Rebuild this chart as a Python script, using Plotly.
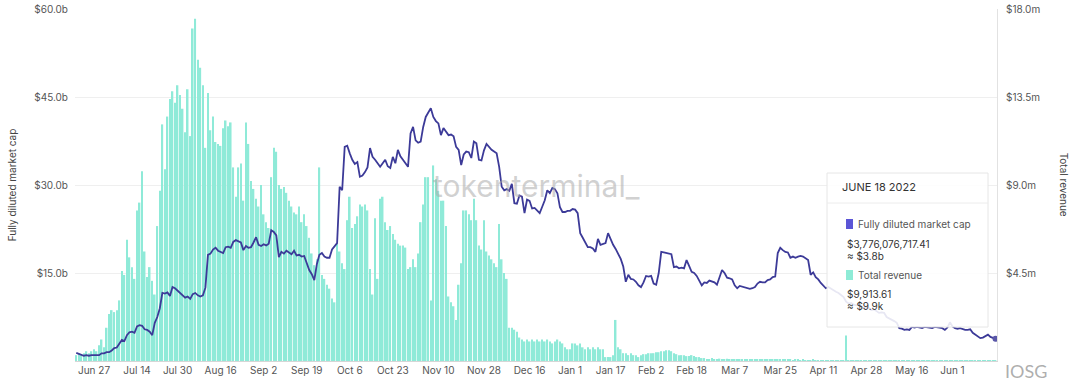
import pandas as pd
import plotly.graph_objects as go

# ---- data (daily, 2021-06-20 .. 2022-06-18) ----
start_date = "2021-06-20"
n_days = 364

# Fully diluted market cap, $ billions
mcap_b = [
    1.4, 1.2, 1.0, 0.9, 1.0, 0.9, 1.0, 1.0, 1.1, 1.0,
    1.3, 1.3, 1.5, 1.5, 1.8, 2.2, 2.3, 3.0, 3.6, 3.4,
    4.4, 4.9, 5.0, 4.8, 5.9, 6.1, 6.0, 5.4, 5.3, 5.0,
    4.4, 6.5, 7.5, 9.0, 11.6, 11.5, 11.7, 11.1, 12.6, 12.4,
    12.0, 11.6, 11.2, 10.8, 11.0, 10.6, 11.4, 11.6, 11.2, 11.0,
    11.2, 12.5, 18.1, 18.3, 19.0, 19.3, 18.8, 18.6, 18.4, 19.4,
    19.5, 19.3, 20.3, 20.6, 20.4, 20.2, 18.9, 19.6, 19.3, 19.4,
    20.2, 21.1, 19.8, 19.6, 19.9, 19.7, 20.0, 22.3, 22.0, 21.4,
    17.7, 18.6, 18.3, 18.8, 18.5, 18.2, 18.8, 18.0, 18.1, 17.8,
    17.9, 16.7, 15.5, 14.8, 13.8, 16.5, 18.1, 18.4, 17.8, 17.6,
    17.6, 19.0, 19.5, 20.1, 29.7, 29.1, 36.5, 36.7, 35.4, 34.3,
    33.6, 33.9, 31.4, 31.6, 32.2, 33.0, 36.3, 34.8, 34.3, 33.7,
    33.1, 33.7, 34.3, 33.2, 32.9, 34.8, 33.7, 36.0, 34.9, 34.3,
    33.6, 33.1, 38.8, 39.9, 37.6, 37.2, 37.4, 39.9, 41.6, 42.4,
    43.1, 41.6, 40.9, 40.5, 38.5, 39.7, 39.1, 38.5, 38.6, 38.3,
    36.5, 36.0, 33.4, 35.2, 35.7, 35.6, 34.6, 37.4, 37.1, 34.3,
    34.2, 35.9, 37.0, 36.4, 36.0, 35.7, 35.4, 33.1, 29.7, 29.1,
    29.3, 29.0, 30.2, 26.9, 26.8, 28.2, 28.0, 25.2, 27.5, 27.3,
    26.0, 26.1, 25.7, 25.2, 26.3, 27.4, 29.1, 28.6, 29.5, 29.3,
    28.6, 26.2, 25.4, 25.4, 25.6, 25.6, 25.9, 25.8, 25.2, 21.8,
    21.0, 20.2, 19.4, 19.4, 19.2, 18.6, 20.8, 19.8, 20.0, 20.1,
    21.8, 20.7, 19.8, 19.1, 18.3, 17.4, 16.1, 13.5, 14.7, 14.0,
    13.9, 13.5, 12.9, 12.6, 13.4, 14.5, 14.4, 14.5, 13.2, 13.0,
    15.0, 18.6, 18.5, 18.4, 18.3, 18.2, 16.0, 16.1, 15.8, 15.9,
    15.8, 17.2, 16.2, 15.2, 15.0, 14.5, 13.7, 12.9, 13.4, 13.3,
    13.7, 13.6, 13.4, 13.0, 14.2, 15.5, 15.0, 14.2, 14.1, 13.9,
    12.9, 12.4, 12.8, 12.7, 12.6, 12.5, 12.3, 12.4, 12.6, 13.2,
    13.5, 13.4, 13.4, 13.8, 13.9, 14.3, 14.4, 18.4, 19.3, 18.9,
    18.6, 18.5, 17.6, 17.8, 17.6, 17.8, 17.9, 17.8, 17.5, 17.2,
    14.7, 15.1, 14.3, 13.9, 13.3, 12.9, 12.4, 12.6, 12.3, 12.1,
    11.8, 11.6, 11.2, 10.9, 10.1, 9.8, 9.9, 9.6, 9.5, 9.6,
    9.3, 9.0, 9.1, 9.0, 8.7, 8.8, 8.5, 8.2, 8.3, 8.2,
    7.5, 7.3, 7.0, 6.8, 6.5, 5.6, 5.5, 5.3, 5.4, 5.3,
    5.8, 5.7, 5.8, 5.7, 5.6, 5.8, 5.7, 5.7, 5.6, 5.8,
    5.7, 5.6, 5.6, 5.3, 5.7, 6.6, 5.9, 5.6, 5.5, 5.6,
    5.4, 5.3, 5.3, 5.4, 4.8, 4.5, 4.1, 3.9, 4.0, 4.3,
    4.5, 4.1, 3.9, 3.776,
]

# Total revenue, $ millions
revenue_m = [
    0.3, 0.4, 0.3, 0.4, 0.5, 0.4, 0.5, 0.6, 0.5, 0.8,
    1.1, 0.7, 1.7, 2.4, 2.6, 2.5, 2.6, 3.1, 4.6, 4.4,
    6.2, 5.3, 4.8, 4.2, 7.7, 8.1, 9.7, 5.6, 4.3, 4.8,
    4.1, 3.4, 6.9, 8.7, 12.1, 9.8, 12.5, 13.4, 13.8, 13.2,
    14.1, 13.6, 12.9, 11.7, 13.9, 11.5, 17.0, 17.5, 15.4, 15.0,
    14.1, 10.9, 13.7, 11.8, 12.5, 11.2, 11.1, 11.0, 11.9, 12.3,
    12.0, 12.2, 9.9, 8.4, 9.9, 10.1, 8.2, 12.2, 11.1, 9.2,
    8.8, 8.3, 7.9, 9.0, 7.5, 7.1, 6.8, 9.4, 10.9, 10.7,
    9.0, 8.8, 8.9, 8.6, 8.2, 7.9, 7.6, 7.5, 7.9, 7.1,
    7.5, 6.9, 6.3, 5.5, 4.9, 5.2, 9.9, 4.4, 4.2, 3.9,
    3.7, 3.2, 3.0, 6.0, 5.6, 5.0, 4.7, 7.2, 8.4, 6.8,
    7.0, 7.4, 8.0, 7.9, 8.0, 7.7, 4.7, 3.4, 7.3, 4.2,
    8.3, 8.4, 7.1, 6.7, 6.9, 6.5, 6.2, 6.0, 5.9, 5.9,
    5.8, 4.7, 4.8, 5.2, 4.8, 5.5, 7.1, 8.0, 9.4, 9.4,
    3.1, 10.0, 9.3, 8.7, 8.2, 8.2, 6.9, 3.3, 3.0, 2.8,
    2.1, 3.9, 5.0, 7.7, 7.7, 7.5, 7.2, 8.3, 7.2, 5.9,
    5.7, 7.2, 5.6, 5.4, 5.2, 5.0, 4.8, 7.0, 5.2, 4.5,
    4.2, 1.7, 1.7, 1.6, 1.5, 1.2, 1.1, 1.0, 1.1, 1.0,
    1.1, 1.0, 1.1, 1.0, 1.1, 1.0, 1.1, 1.0, 0.9, 1.0,
    1.1, 1.0, 0.9, 0.7, 0.6, 0.6, 0.9, 0.9, 0.8, 0.9,
    0.7, 0.6, 0.7, 0.6, 0.7, 0.6, 0.7, 0.6, 0.6, 0.2,
    0.2, 0.2, 0.3, 2.1, 0.7, 0.6, 0.4, 0.4, 0.3, 0.4,
    0.3, 0.3, 0.2, 0.3, 0.35, 0.35, 0.4, 0.4, 0.4, 0.45,
    0.45, 0.5, 0.5, 0.55, 0.55, 0.5, 0.4, 0.35, 0.3, 0.3,
    0.3, 0.25, 0.25, 0.3, 0.25, 0.2, 0.2, 0.15, 0.15, 0.1,
    0.1, 0.15, 0.1, 0.1, 0.12, 0.1, 0.1, 0.12, 0.1, 0.1,
    0.1, 0.08, 0.1, 0.1, 0.08, 0.1, 0.08, 0.1, 0.08, 0.1,
    0.08, 0.1, 0.08, 0.08, 0.07, 0.08, 0.06, 0.08, 0.07, 0.06,
    0.06, 0.07, 0.06, 0.05, 0.06, 0.06, 0.05, 0.06, 0.05, 0.05,
    0.05, 0.06, 0.05, 0.05, 0.04, 0.05, 0.04, 0.05, 0.04, 0.04,
    0.05, 0.04, 0.04, 0.04, 1.3, 0.04, 0.04, 0.03, 0.04, 0.03,
    0.03, 0.04, 0.03, 0.03, 0.03, 0.03, 0.03, 0.03, 0.03, 0.03,
    0.03, 0.02, 0.03, 0.02, 0.03, 0.02, 0.02, 0.03, 0.02, 0.02,
    0.02, 0.03, 0.02, 0.02, 0.02, 0.02, 0.03, 0.02, 0.02, 0.02,
    0.02, 0.02, 0.02, 0.02, 0.03, 0.02, 0.02, 0.02, 0.02, 0.02,
    0.02, 0.02, 0.01, 0.02, 0.01, 0.01, 0.02, 0.01, 0.01, 0.01,
    0.01, 0.01, 0.01, 0.0099,
]

tick_dates = ["2021-06-27", "2021-07-14", "2021-07-30", "2021-08-16", "2021-09-02",
              "2021-09-19", "2021-10-06", "2021-10-23", "2021-11-10", "2021-11-28",
              "2021-12-16", "2022-01-01", "2022-01-17", "2022-02-02", "2022-02-18",
              "2022-03-07", "2022-03-25", "2022-04-11", "2022-04-28", "2022-05-16",
              "2022-06-01"]
tick_labels = ["Jun 27", "Jul 14", "Jul 30", "Aug 16", "Sep 2", "Sep 19", "Oct 6",
               "Oct 23", "Nov 10", "Nov 28", "Dec 16", "Jan 1", "Jan 17", "Feb 2",
               "Feb 18", "Mar 7", "Mar 25", "Apr 11", "Apr 28", "May 16", "Jun 1"]

mcap_ticks = [15, 30, 45, 60]
mcap_tick_labels = ["$15.0b", "$30.0b", "$45.0b", "$60.0b"]
rev_ticks = [4.5, 9, 13.5, 18]
rev_tick_labels = ["$4.5m", "$9.0m", "$13.5m", "$18.0m"]

dates = pd.date_range(start_date, periods=n_days, freq="D")
assert len(mcap_b) == n_days and len(revenue_m) == n_days

FONT = "Inter, 'Open Sans', sans-serif"
BAR_COLOR = "#8FEAD8"
LINE_COLOR = "#3C3A98"

fig = go.Figure()
fig.add_trace(go.Bar(x=dates, y=revenue_m, marker=dict(color=BAR_COLOR, line=dict(width=0)),
                     yaxis="y", name="Total revenue", hoverinfo="skip"))
fig.add_trace(go.Scatter(x=dates, y=mcap_b, mode="lines", yaxis="y2",
                         line=dict(color=LINE_COLOR, width=1.8), name="Fully diluted market cap",
                         hoverinfo="skip"))
fig.add_trace(go.Scatter(x=[dates[-1]], y=[mcap_b[-1]], mode="markers", yaxis="y2",
                         marker=dict(color="#5A57A8", size=6), hoverinfo="skip"))

fig.update_layout(
    width=1080, height=384,
    margin=dict(l=75, r=83, t=9, b=23, autoexpand=False),
    paper_bgcolor="white", plot_bgcolor="white",
    showlegend=False, bargap=0.38,
    font=dict(family=FONT, size=10, color="#555"),
    xaxis=dict(type="date", automargin=False,
               range=[pd.Timestamp("2021-06-19 12:00"), pd.Timestamp("2022-06-18 14:00")],
               tickvals=tick_dates, ticktext=tick_labels, showgrid=False,
               showline=True, linecolor="#d6d6d6", linewidth=1, ticks="",
               tickfont=dict(size=10, color="#555"), zeroline=False),
    yaxis=dict(side="right", range=[0, 18], tickvals=rev_ticks, ticktext=rev_tick_labels,
               showgrid=False, zeroline=False, showline=True, linecolor="#e2e2e2",
               ticks="", tickfont=dict(size=10, color="#555"), ticklabelstandoff=6,
               automargin=False),
    yaxis2=dict(side="left", overlaying="y", range=[0, 60], tickvals=mcap_ticks,
                ticktext=mcap_tick_labels, showgrid=True, gridcolor="#efefef",
                zeroline=False, ticks="", tickfont=dict(size=10, color="#555"),
                ticklabelstandoff=6, automargin=False),
)

# axis titles
fig.add_annotation(text="Fully diluted market cap", xref="paper", yref="paper",
                   x=-0.068, y=0.5, textangle=-90, showarrow=False,
                   font=dict(size=10, color="#444"), xanchor="center", yanchor="middle")
fig.add_annotation(text="Total revenue", xref="paper", yref="paper",
                   x=1.073, y=0.5, textangle=90, showarrow=False,
                   font=dict(size=10, color="#444"), xanchor="center", yanchor="middle")

def px_x(px):
    return (px - 75) / 922

def px_y(py):
    return (361 - py) / 352

# watermark
fig.add_annotation(text="tokenterminal_", xref="paper", yref="paper", x=px_x(536), y=px_y(186),
                   showarrow=False, font=dict(size=30, color="rgba(170,170,170,0.55)",
                                              family="Inter"), xanchor="center", yanchor="middle")

# tooltip box
fig.add_shape(type="rect", xref="paper", yref="paper", x0=px_x(827), x1=px_x(988),
              y0=px_y(327), y1=px_y(173),
              fillcolor="rgba(255,255,255,0.88)", line=dict(color="#e6e6e6", width=1), layer="above")
fig.add_shape(type="line", xref="paper", yref="paper", x0=px_x(827), x1=px_x(988),
              y0=px_y(203), y1=px_y(203),
              line=dict(color="#ececec", width=1), layer="above")

fig.add_annotation(text="JUNE 18 2022", xref="paper", yref="paper", x=px_x(840), y=px_y(187),
                   showarrow=False, xanchor="left", yanchor="middle",
                   font=dict(size=11, color="#333"))
fig.add_shape(type="rect", xref="paper", yref="paper", x0=px_x(846), x1=px_x(853),
              y0=px_y(229), y1=px_y(219), fillcolor="#5B55D6", line=dict(width=0), layer="above")
fig.add_annotation(text="Fully diluted market cap", xref="paper", yref="paper", x=px_x(856),
                   y=px_y(224), showarrow=False, xanchor="left", yanchor="middle",
                   font=dict(size=10, color="#555"))
fig.add_annotation(text="$3,776,076,717.41", xref="paper", yref="paper", x=px_x(845),
                   y=px_y(244), showarrow=False, xanchor="left", yanchor="middle",
                   font=dict(size=10, color="#333"))
fig.add_annotation(text="≈ $3.8b", xref="paper", yref="paper", x=px_x(845),
                   y=px_y(256), showarrow=False, xanchor="left", yanchor="middle",
                   font=dict(size=10, color="#333"))
fig.add_shape(type="rect", xref="paper", yref="paper", x0=px_x(846), x1=px_x(853),
              y0=px_y(280), y1=px_y(270), fillcolor="#8EEBD6", line=dict(width=0), layer="above")
fig.add_annotation(text="Total revenue", xref="paper", yref="paper", x=px_x(856),
                   y=px_y(275), showarrow=False, xanchor="left", yanchor="middle",
                   font=dict(size=10, color="#555"))
fig.add_annotation(text="$9,913.61", xref="paper", yref="paper", x=px_x(845),
                   y=px_y(294), showarrow=False, xanchor="left", yanchor="middle",
                   font=dict(size=10, color="#333"))
fig.add_annotation(text="≈ $9.9k", xref="paper", yref="paper", x=px_x(845),
                   y=px_y(306), showarrow=False, xanchor="left", yanchor="middle",
                   font=dict(size=10, color="#333"))

# IOSG overlay text
fig.add_annotation(text="IOSG", xref="paper", yref="paper", x=px_x(1026), y=px_y(371),
                   showarrow=False, xanchor="center", yanchor="middle",
                   font=dict(size=18, color="rgba(160,160,160,0.85)", family="Lato"))

fig.write_html("out.html", config={"displayModeBar": False},
               post_script="document.body.style.margin='0px';document.body.style.overflow='hidden';")
